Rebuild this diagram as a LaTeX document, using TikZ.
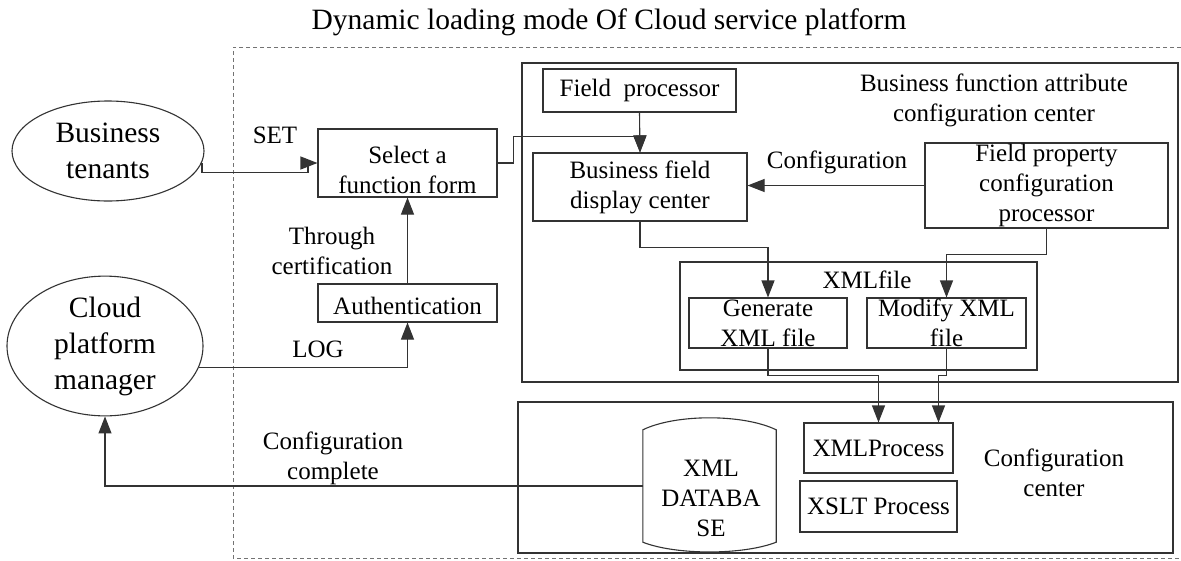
\documentclass[tikz,border=0pt]{standalone}
\usepackage{fontspec}
\setmainfont{Liberation Serif}
\usetikzlibrary{arrows.meta,shapes.geometric,calc}
\newcommand\fsBody{\fontsize{25}{30}\selectfont}
\newcommand\fsBig{\fontsize{29.5}{36}\selectfont}
\begin{document}
\begin{tikzpicture}[x=1pt,y=-1pt,
  every node/.style={font=\fsBody,inner sep=0pt},
  box/.style={draw=black!80,line width=1.1pt,rectangle,align=center},
  bigbox/.style={draw=black!80,line width=1.3pt,rectangle},
  oval/.style={draw=black!80,line width=1.1pt,ellipse,align=center,font=\fsBig},
  lbl/.style={align=center},
  conn/.style={draw=black!80,line width=1.1pt},
  arr/.style={conn,-{Triangle[length=17pt,width=13pt]}},
  frame/.style={draw=black!55,line width=1pt,dash pattern=on 4pt off 3pt}]
\useasboundingbox (0,0) rectangle (1181,560);
\fill[white] (0,0) rectangle (1181,560);

% title
\node[font=\fsBig] (title) at (609,22) {Dynamic loading mode Of Cloud service platform};

% dashed frame
\draw[frame] (1181,47) -- (233,47) -- (233,558) -- (1181,558);

% outer containers
\node[bigbox,minimum width=656pt,minimum height=319pt] (bfacc) at (850,222.5) {};
\node[bigbox,minimum width=655pt,minimum height=151pt] (cc) at (845.5,477.5) {};
\node[box,minimum width=357pt,minimum height=108pt] (xmlfile) at (858.5,316) {};

% ellipses
\node[oval,minimum width=192pt,minimum height=100pt] (bt) at (108,151) {Business\\tenants};
\node[oval,minimum width=196pt,minimum height=128pt] (cpm) at (105,346) {Cloud\\platform\\manager};

% boxes
\node[box,minimum width=179pt,minimum height=68pt] (select) at (407.5,163) {};
\node[lbl] (selectt) at (407.5,170) {Select a\\function form};
\node[box,minimum width=179pt,minimum height=38pt] (auth) at (407.5,303) {};
\node[lbl] (autht) at (407.5,306) {Authentication};
\node[box,minimum width=193pt,minimum height=43pt] (fproc) at (639.5,90.5) {Field\ \ processor};
\node[box,minimum width=214pt,minimum height=68pt] (bfdc) at (640,187) {Business field\\display center};
\node[box,minimum width=243pt,minimum height=85pt] (fpcp) at (1046.5,185.5) {Field property\\configuration\\processor};
\node[box,minimum width=158pt,minimum height=50pt] (gen) at (768,323) {Generate\\XML file};
\node[box,minimum width=159pt,minimum height=50pt] (mod) at (946.5,323) {Modify XML\\file};
\node[box,minimum width=149pt,minimum height=50pt] (xmlp) at (878.5,448) {XMLProcess};
\node[box,minimum width=157pt,minimum height=51pt] (xslt) at (878.5,506.5) {XSLT Process};

% database cylinder
\node[minimum width=133pt,minimum height=112pt] (db) at (709.5,486) {};
\draw[conn] (db.north west) .. controls ($(db.north west)+(33,-16)$) and ($(db.north east)+(-33,-16)$) .. (db.north east)
  -- (db.south east) .. controls ($(db.south east)+(-33,13)$) and ($(db.south west)+(33,13)$) .. (db.south west) -- cycle;
\node[lbl] (dbt) at (711,498) {XML\\DATABA\\SE};

% labels
\node[lbl,anchor=base] (lset) at (275,143) {SET};
\node[lbl] (lthr) at (332,251) {Through\\certification};
\node[lbl,anchor=base] (llog) at (318,357) {LOG};
\node[lbl,anchor=base] (lconf) at (837,168) {Configuration};
\node[lbl,anchor=base] (lxml) at (867,288) {XMLfile};
\node[lbl] (lbfacc) at (994,100) {Business function attribute\\configuration center};
\node[lbl] (lcc) at (1054,473) {Configuration\\center};
\node[lbl] (lcomp) at (333,458) {Configuration\\complete};

% connectors
\draw[arr] (bt.-7) -- ++(0,10) -- ++(106,0) |- (select.west);
\draw[arr] (auth.north) -- (select.south);
\draw[arr] (cpm.-13.4) -| (auth.south);
\draw[arr] (select.east) -- ++(16,0) |- ($(bfdc.north)+(0,-16)$) -- (bfdc.north);
\draw[arr] (fproc.south) -- (bfdc.north);
\draw[arr] (fpcp.west) -- (fpcp.west -| bfdc.east);
\draw[arr] (bfdc.south) -- ++(0,26) -| (gen.north);
\draw[arr] (fpcp.south) -- ++(0,26) -| (mod.north);
\draw[arr] (gen.south) -- ++(0,27) -| (xmlp.north);
\draw[arr] (mod.south) -- ++(0,27) -| ([xshift=60pt]xmlp.north);
\draw[arr] (db.west) -| (cpm.south);
\end{tikzpicture}
\end{document}
